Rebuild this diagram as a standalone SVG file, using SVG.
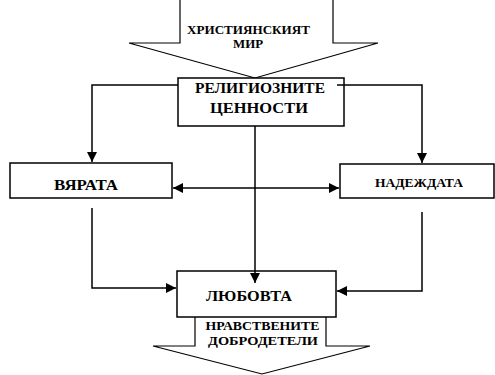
<svg xmlns="http://www.w3.org/2000/svg" width="495" height="375" viewBox="0 0 495 375">
<style>
.box{fill:#fff;stroke:#000;stroke-width:1.5}
.big{fill:#fff;stroke:#000;stroke-width:1.2}
.ln{fill:none;stroke:#000;stroke-width:1.5}
.t{font-family:'Liberation Serif','Times New Roman','DejaVu Serif',serif;font-weight:700;text-anchor:middle;fill:#000}
</style>
<defs>
<marker id="ah" viewBox="0 0 10 10" refX="10" refY="5" markerWidth="10" markerHeight="10" markerUnits="userSpaceOnUse" orient="auto-start-reverse">
<path d="M0,0 L10,5 L0,10 z" fill="#000"/>
</marker>
</defs>
<g id="top-arrow">
<path class="big" d="M180,0 L180,43 L129,43 L255,78 L378,43 L333,43 L333,0"/>
<text class="t" x="248.5" y="34" font-size="12.5" textLength="123" lengthAdjust="spacingAndGlyphs">ХРИСТИЯНСКИЯТ</text>
<text class="t" x="248" y="48" font-size="12.5" textLength="30" lengthAdjust="spacingAndGlyphs">МИР</text>
</g>
<g id="bottom-arrow">
<path class="big" d="M195,317 L195,346 L153,346 L262,374 L370,346 L326,346 L326,317"/>
<text class="t" x="262.5" y="330" font-size="12.5" textLength="114" lengthAdjust="spacingAndGlyphs">НРАВСТВЕНИТЕ</text>
<text class="t" x="263" y="345" font-size="12.5" textLength="110" lengthAdjust="spacingAndGlyphs">ДОБРОДЕТЕЛИ</text>
</g>
<g id="religious">
<rect class="box" x="178" y="78" width="166" height="48"/>
<text class="t" x="260" y="93" font-size="15" textLength="130" lengthAdjust="spacingAndGlyphs">РЕЛИГИОЗНИТЕ</text>
<text class="t" x="259" y="113" font-size="15" textLength="98" lengthAdjust="spacingAndGlyphs">ЦЕННОСТИ</text>
</g>
<g id="faith">
<rect class="box" x="10" y="163" width="162" height="35"/>
<text class="t" x="86" y="190" font-size="14" textLength="64" lengthAdjust="spacingAndGlyphs">ВЯРАТА</text>
</g>
<g id="hope">
<rect class="box" x="340" y="164" width="154" height="34"/>
<text class="t" x="419" y="187" font-size="12.5" textLength="88" lengthAdjust="spacingAndGlyphs">НАДЕЖДАТА</text>
</g>
<g id="love">
<rect class="box" x="177" y="271" width="159" height="46"/>
<text class="t" x="249" y="301" font-size="15" textLength="86" lengthAdjust="spacingAndGlyphs">ЛЮБОВТА</text>
</g>
<g id="connectors">
<path class="ln" d="M178,85 L92,85 L92,162" marker-end="url(#ah)"/>
<path class="ln" d="M337,85 L422,85 L422,163" marker-end="url(#ah)"/>
<path class="ln" d="M255,126 L255,283" marker-end="url(#ah)"/>
<path class="ln" d="M173,188 L339,188" marker-start="url(#ah)" marker-end="url(#ah)"/>
<path class="ln" d="M92,208 L92,288 L176,288" marker-end="url(#ah)"/>
<path class="ln" d="M422,212 L422,291 L337,291" marker-end="url(#ah)"/>
</g>
</svg>
